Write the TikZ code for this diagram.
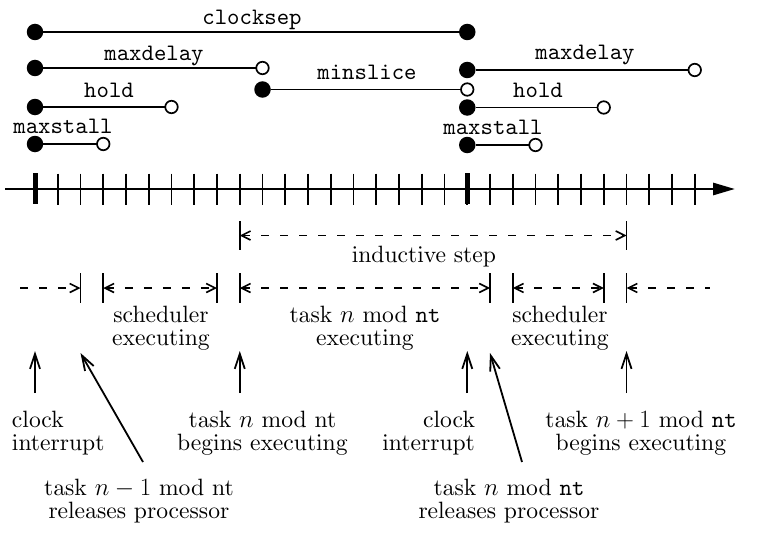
\documentclass[tikz,border=0pt]{standalone}
\usetikzlibrary{arrows.meta}
% Computer Modern at its 10pt design size, scaled up
\DeclareFontFamily{OT1}{crten}{}
\DeclareFontShape{OT1}{crten}{m}{n}{<-> cmr10}{}
\DeclareFontFamily{OT1}{cttten}{\hyphenchar\font=-1}
\DeclareFontShape{OT1}{cttten}{m}{n}{<-> cmtt10}{}
\newcommand\txtfont{\fontencoding{OT1}\fontfamily{crten}\fontsize{23.6}{22.4}\selectfont}
\newcommand\codefont{\fontencoding{OT1}\fontfamily{cttten}\fontsize{23.6}{22.4}\selectfont}
\newcommand\ntname{{\fontencoding{OT1}\fontfamily{cttten}\selectfont nt}}
% x position of time tick #1
\newcommand\tk[1]{35+22.75*#1}
\begin{document}
\begin{tikzpicture}[x=1pt,y=-1pt,
  every node/.style={inner sep=0pt,outer sep=0pt},
  code/.style={font=\codefont,anchor=base},
  words/.style={font=\txtfont,align=center,anchor=base},
  ivl/.style={line width=1.8pt},
  shut/.style={circle,fill=black,minimum size=16.5pt},
  hollow/.style={circle,draw=black,fill=white,line width=1.7pt,minimum size=12.5pt},
  axisln/.style={line width=2.8pt,-{Triangle[length=22pt,width=12pt]}},
  tickln/.style={line width=1.8pt},
  bigtick/.style={line width=5pt},
  bar/.style={line width=1.7pt},
  dasharr/.style={line width=1.6pt,dash pattern=on 8pt off 11pt},
  both/.style={dasharr,{Straight Barb[length=9pt,width=9pt]}-{Straight Barb[length=9pt,width=9pt]}},
  toright/.style={dasharr,-{Straight Barb[length=9pt,width=9pt]}},
  toleft/.style={dasharr,{Straight Barb[length=9pt,width=9pt]}-},
  uparr/.style={line width=1.8pt,-{Straight Barb[length=15pt,width=10pt]}}
]
\useasboundingbox (0,0) rectangle (758,535);

% ---- interval bars ----
\node[shut] (cs0) at (\tk{0},32) {};
\node[shut] (cs1) at (\tk{19},32) {};
\draw[ivl] (cs0) -- (cs1);
\node[code] (cs) at (252,25) {clocksep};

\node[shut] (md0) at (\tk{0},68) {};
\node[hollow] (md1) at (\tk{10},68) {};
\draw[ivl] (md0) -- (md1);
\node[code] (mdl) at (154,60) {maxdelay};

\node[shut] (hd0) at (\tk{0},107) {};
\node[hollow] (hd1) at (\tk{6},107) {};
\draw[ivl] (hd0) -- (hd1);
\node[code] (hdl) at (109,97) {hold};

\node[shut] (ms0) at (\tk{0},144) {};
\node[hollow] (ms1) at (\tk{3},144) {};
\draw[ivl] (ms0) -- (ms1);
\node[code] (msl) at (63,133) {maxstall};

\node[shut] (sl0) at (\tk{10},89.5) {};
\node[hollow] (sl1) at (\tk{19},89.5) {};
\draw[ivl] (sl0) -- (sl1);
\node[code] (sll) at (367,80) {minslice};

\node[shut] (md2) at (\tk{19},70) {};
\node[hollow] (md3) at (\tk{29},70) {};
\draw[ivl] (md2) -- (md3);
\node[code] (mdr) at (585,59.5) {maxdelay};

\node[shut] (hd2) at (\tk{19},107.5) {};
\node[hollow] (hd3) at (\tk{25},107.5) {};
\draw[ivl] (hd2) -- (hd3);
\node[code] (hdr) at (538,97.5) {hold};

\node[shut] (ms2) at (\tk{19},145) {};
\node[hollow] (ms3) at (\tk{22},145) {};
\draw[ivl] (ms2) -- (ms3);
\node[code] (msr) at (493,134) {maxstall};

% ---- time axis ----
\coordinate (a0) at (5,189);
\coordinate (a1) at (735,189);
\draw[axisln] (a0) -- (a1);
\foreach \k in {1,...,29}
  \draw[tickln] (\tk{\k},173.5) -- (\tk{\k},204.5);
\foreach \k in {0,19}
  \draw[bigtick] (\tk{\k},173) -- (\tk{\k},204);

% ---- inductive step ----
\foreach \k in {9,26}
  \draw[bar] (\tk{\k},221) -- (\tk{\k},250);
\coordinate (i0) at (\tk{9},235.5);
\coordinate (i1) at (\tk{26},235.5);
\draw[both] (i0) -- (i1);
\node[words] (ind) at (424,262) {inductive step};

% ---- execution phases ----
\foreach \k in {2,3,8,9,20,21,25,26}
  \draw[bar] (\tk{\k},273) -- (\tk{\k},303);
\coordinate (p0) at (20,288);
\coordinate (p2) at (\tk{2},288);
\coordinate (p3) at (\tk{3},288);
\coordinate (p8) at (\tk{8},288);
\coordinate (p9) at (\tk{9},288);
\coordinate (p20) at (\tk{20},288);
\coordinate (p21) at (\tk{21},288);
\coordinate (p25) at (\tk{25},288);
\coordinate (p26) at (\tk{26},288);
\coordinate (p30) at (710,288);
\draw[toright] (p0) -- (p2);
\draw[both] (p3) -- (p8);
\draw[both] (p9) -- (p20);
\draw[both] (p21) -- (p25);
\draw[toleft] (p26) -- (p30);

% multi-line labels: base anchor sits on the last line
\node[words] (sch1) at (161,345) {scheduler\\executing};
\node[words] (tne) at (365,345) {task $n$ mod \ntname\\executing};
\node[words] (sch2) at (560,345) {scheduler\\executing};

% ---- events ----
\coordinate (e0b) at (\tk{0},393);   \coordinate (e0t) at (\tk{0},351);
\coordinate (e9b) at (\tk{9},393);   \coordinate (e9t) at (\tk{9},351);
\coordinate (e19b) at (\tk{19},393); \coordinate (e19t) at (\tk{19},351);
\coordinate (e26b) at (\tk{26},393); \coordinate (e26t) at (\tk{26},351);
\coordinate (r1b) at (143,462);      \coordinate (r1t) at (\tk{2},353);
\coordinate (r2b) at (522,462);      \coordinate (r2t) at (\tk{20},353);
\draw[uparr] (e0b) -- (e0t);
\draw[uparr] (e9b) -- (e9t);
\draw[uparr] (e19b) -- (e19t);
\draw[uparr] (e26b) -- (e26t);
\draw[uparr] (r1b) -- (r1t);
\draw[uparr] (r2b) -- (r2t);

\node[words,align=left,anchor=base west] (ci1) at (12,450) {clock\\interrupt};
\node[words] (tb1) at (262.5,450) {task $n$ mod nt\\begins executing};
\node[words,align=right,anchor=base east] (ci2) at (475,450) {clock\\interrupt};
\node[words] (tb2) at (641,450) {task $n+1$ mod \ntname\\begins executing};
\node[words] (rp1) at (139,518) {task $n-1$ mod nt\\releases processor};
\node[words] (rp2) at (509,518) {task $n$ mod \ntname\\releases processor};
\end{tikzpicture}
\end{document}
